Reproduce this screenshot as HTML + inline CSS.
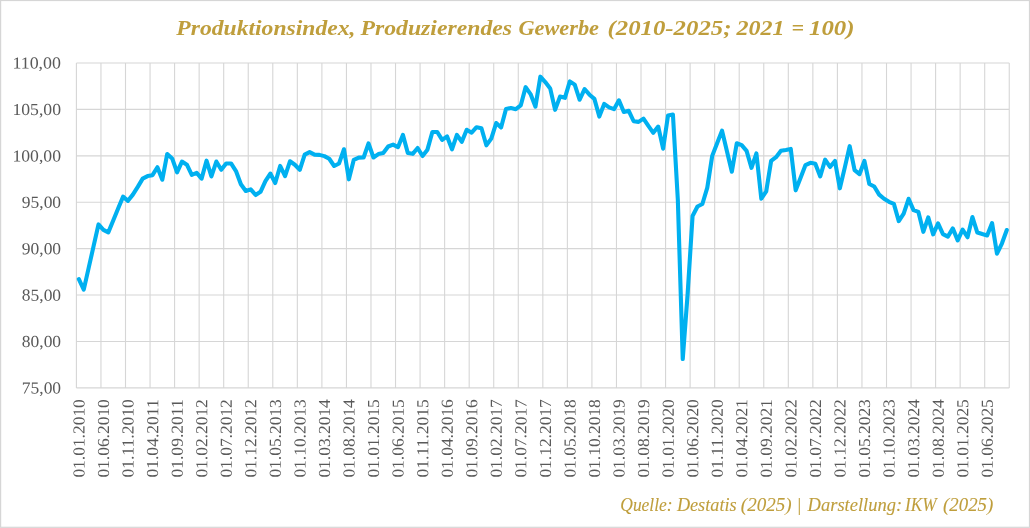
<!DOCTYPE html>
<html lang="de"><head><meta charset="utf-8"><title>Produktionsindex, Produzierendes Gewerbe</title>
<style>html,body{margin:0;padding:0;background:#fff;}body{width:1030px;height:528px;overflow:hidden;}svg{display:block;}text{font-family:"Liberation Serif",serif;}</style></head><body>
<svg width="1030" height="528" viewBox="0 0 1030 528">
<rect x="0" y="0" width="1030" height="528" fill="#ffffff"/>
<rect x="0.6" y="0.5" width="1028.9" height="526.8" fill="none" stroke="#d6d6d6" stroke-width="1.2"/>
<path d="M76.40 63.00H1009.25M76.40 109.41H1009.25M76.40 155.83H1009.25M76.40 202.24H1009.25M76.40 248.66H1009.25M76.40 295.07H1009.25M76.40 341.49H1009.25M76.40 387.90H1009.25M76.40 63.00V387.90M100.95 63.00V387.90M125.50 63.00V387.90M150.05 63.00V387.90M174.59 63.00V387.90M199.14 63.00V387.90M223.69 63.00V387.90M248.24 63.00V387.90M272.79 63.00V387.90M297.34 63.00V387.90M321.89 63.00V387.90M346.44 63.00V387.90M370.98 63.00V387.90M395.53 63.00V387.90M420.08 63.00V387.90M444.63 63.00V387.90M469.18 63.00V387.90M493.73 63.00V387.90M518.28 63.00V387.90M542.83 63.00V387.90M567.37 63.00V387.90M591.92 63.00V387.90M616.47 63.00V387.90M641.02 63.00V387.90M665.57 63.00V387.90M690.12 63.00V387.90M714.67 63.00V387.90M739.21 63.00V387.90M763.76 63.00V387.90M788.31 63.00V387.90M812.86 63.00V387.90M837.41 63.00V387.90M861.96 63.00V387.90M886.51 63.00V387.90M911.06 63.00V387.90M935.60 63.00V387.90M960.15 63.00V387.90M984.70 63.00V387.90M1009.25 63.00V387.90" fill="none" stroke="#d6d6d6" stroke-width="1.1"/>
<path d="M78.85 279.06 L83.76 289.66 L88.67 267.92 L93.58 246.17 L98.49 224.43 L103.40 229.90 L108.31 232.38 L113.22 220.47 L118.13 208.57 L123.04 196.66 L127.95 200.83 L132.86 194.61 L137.77 186.90 L142.68 178.59 L147.59 176.07 L152.50 175.18 L157.41 167.23 L162.32 179.72 L167.23 153.98 L172.14 158.40 L177.05 172.28 L181.96 161.55 L186.87 164.71 L191.78 174.81 L196.69 172.91 L201.60 178.59 L206.51 160.67 L211.42 176.45 L216.33 161.55 L221.24 169.76 L226.15 163.45 L231.06 163.45 L235.97 171.02 L240.88 184.27 L245.79 190.96 L250.70 189.32 L255.61 195.00 L260.52 191.84 L265.42 181.12 L270.33 173.54 L275.24 183.01 L280.15 165.97 L285.06 176.07 L289.97 161.30 L294.88 164.71 L299.79 169.76 L304.70 154.61 L309.61 152.09 L314.52 154.61 L319.43 154.86 L324.34 156.13 L329.25 158.78 L334.16 165.97 L339.07 163.45 L343.98 149.28 L348.89 179.32 L353.80 159.76 L358.71 157.61 L363.62 157.49 L368.53 143.35 L373.44 157.49 L378.35 154.08 L383.26 153.07 L388.17 146.50 L393.08 144.61 L397.99 147.14 L402.90 134.89 L407.81 153.07 L412.72 153.83 L417.63 148.02 L422.54 155.97 L427.45 149.66 L432.36 131.99 L437.27 131.99 L442.18 139.94 L447.09 136.41 L451.99 149.28 L456.90 134.89 L461.81 141.75 L466.72 129.76 L471.63 132.66 L476.54 127.23 L481.45 128.24 L486.36 145.28 L491.27 138.59 L496.18 123.07 L501.09 127.49 L506.00 108.97 L510.91 107.96 L515.82 109.22 L520.73 105.44 L525.64 87.14 L530.55 94.08 L535.46 106.70 L540.37 76.66 L545.28 82.09 L550.19 88.40 L555.10 109.85 L560.01 96.60 L564.92 97.86 L569.83 81.46 L574.74 84.61 L579.65 99.76 L584.56 89.03 L589.47 94.71 L594.38 98.87 L599.29 116.54 L604.20 103.92 L609.11 107.33 L614.02 109.14 L618.93 100.30 L623.84 112.04 L628.75 110.78 L633.66 121.25 L638.56 121.88 L643.47 118.60 L648.38 125.92 L653.29 132.86 L658.20 126.55 L663.11 148.64 L668.02 115.45 L672.93 114.56 L677.84 200.00 L682.75 359.07 L687.66 293.50 L692.57 215.97 L697.48 206.50 L702.39 203.98 L707.30 187.57 L712.21 155.87 L717.12 143.25 L722.03 130.63 L726.94 151.20 L731.85 171.65 L736.76 143.25 L741.67 145.15 L746.58 150.83 L751.49 167.86 L756.40 153.35 L761.31 198.68 L766.22 191.36 L771.13 160.92 L776.04 157.14 L780.95 150.83 L785.86 149.94 L790.77 148.93 L795.68 190.33 L800.59 177.71 L805.50 165.09 L810.41 162.82 L815.32 163.83 L820.23 176.45 L825.13 159.66 L830.04 166.98 L834.95 160.92 L839.86 188.31 L844.77 167.61 L849.68 146.16 L854.59 170.14 L859.50 174.17 L864.41 160.92 L869.32 184.02 L874.23 186.54 L879.14 194.61 L884.05 198.78 L888.96 201.81 L893.87 203.83 L898.78 221.12 L903.69 213.54 L908.60 198.78 L913.51 210.14 L918.42 211.90 L923.33 231.84 L928.24 217.33 L933.15 234.33 L938.06 223.35 L942.97 234.08 L947.88 236.60 L952.79 228.40 L957.70 240.39 L962.61 229.66 L967.52 237.23 L972.43 217.04 L977.34 232.56 L982.25 234.08 L987.16 235.47 L992.07 223.10 L996.98 253.64 L1001.89 243.54 L1006.80 230.04" fill="none" stroke="#00b0f0" stroke-width="4.1" stroke-linejoin="round" stroke-linecap="round"/>
<text y="34.8" font-size="22" fill="#bf9e3c" font-weight="bold" font-style="italic"><tspan x="176.30" textLength="179.10" lengthAdjust="spacingAndGlyphs">Produktionsindex,</tspan> <tspan x="360.40" textLength="151.70" lengthAdjust="spacingAndGlyphs">Produzierendes</tspan> <tspan x="518.40" textLength="80.60" lengthAdjust="spacingAndGlyphs">Gewerbe</tspan> <tspan x="607.60" textLength="123.80" lengthAdjust="spacingAndGlyphs">(2010-2025;</tspan> <tspan x="736.40" textLength="48.10" lengthAdjust="spacingAndGlyphs">2021</tspan> <tspan x="791.50">=</tspan> <tspan x="809.00" textLength="45.50" lengthAdjust="spacingAndGlyphs">100)</tspan></text>
<text transform="translate(12.40 68.55) rotate(0.05)" font-size="16.8" fill="#595959" textLength="48.60" lengthAdjust="spacingAndGlyphs">110,00</text>
<text transform="translate(12.40 114.96) rotate(0.05)" font-size="16.8" fill="#595959" textLength="48.60" lengthAdjust="spacingAndGlyphs">105,00</text>
<text transform="translate(12.40 161.38) rotate(0.05)" font-size="16.8" fill="#595959" textLength="48.60" lengthAdjust="spacingAndGlyphs">100,00</text>
<text transform="translate(21.80 207.79) rotate(0.05)" font-size="16.8" fill="#595959" textLength="39.30" lengthAdjust="spacingAndGlyphs">95,00</text>
<text transform="translate(21.80 254.21) rotate(0.05)" font-size="16.8" fill="#595959" textLength="39.30" lengthAdjust="spacingAndGlyphs">90,00</text>
<text transform="translate(21.80 300.62) rotate(0.05)" font-size="16.8" fill="#595959" textLength="39.30" lengthAdjust="spacingAndGlyphs">85,00</text>
<text transform="translate(21.80 347.04) rotate(0.05)" font-size="16.8" fill="#595959" textLength="39.30" lengthAdjust="spacingAndGlyphs">80,00</text>
<text transform="translate(21.80 393.45) rotate(0.05)" font-size="16.8" fill="#595959" textLength="39.30" lengthAdjust="spacingAndGlyphs">75,00</text>
<text transform="translate(84.45 477.60) rotate(-89.95)" font-size="16.8" fill="#595959" textLength="78.40" lengthAdjust="spacingAndGlyphs">01.01.2010</text>
<text transform="translate(109.00 477.60) rotate(-89.95)" font-size="16.8" fill="#595959" textLength="78.40" lengthAdjust="spacingAndGlyphs">01.06.2010</text>
<text transform="translate(133.55 477.60) rotate(-89.95)" font-size="16.8" fill="#595959" textLength="78.40" lengthAdjust="spacingAndGlyphs">01.11.2010</text>
<text transform="translate(158.10 477.60) rotate(-89.95)" font-size="16.8" fill="#595959" textLength="78.40" lengthAdjust="spacingAndGlyphs">01.04.2011</text>
<text transform="translate(182.65 477.60) rotate(-89.95)" font-size="16.8" fill="#595959" textLength="78.40" lengthAdjust="spacingAndGlyphs">01.09.2011</text>
<text transform="translate(207.20 477.60) rotate(-89.95)" font-size="16.8" fill="#595959" textLength="78.40" lengthAdjust="spacingAndGlyphs">01.02.2012</text>
<text transform="translate(231.75 477.60) rotate(-89.95)" font-size="16.8" fill="#595959" textLength="78.40" lengthAdjust="spacingAndGlyphs">01.07.2012</text>
<text transform="translate(256.30 477.60) rotate(-89.95)" font-size="16.8" fill="#595959" textLength="78.40" lengthAdjust="spacingAndGlyphs">01.12.2012</text>
<text transform="translate(280.84 477.60) rotate(-89.95)" font-size="16.8" fill="#595959" textLength="78.40" lengthAdjust="spacingAndGlyphs">01.05.2013</text>
<text transform="translate(305.39 477.60) rotate(-89.95)" font-size="16.8" fill="#595959" textLength="78.40" lengthAdjust="spacingAndGlyphs">01.10.2013</text>
<text transform="translate(329.94 477.60) rotate(-89.95)" font-size="16.8" fill="#595959" textLength="78.40" lengthAdjust="spacingAndGlyphs">01.03.2014</text>
<text transform="translate(354.49 477.60) rotate(-89.95)" font-size="16.8" fill="#595959" textLength="78.40" lengthAdjust="spacingAndGlyphs">01.08.2014</text>
<text transform="translate(379.04 477.60) rotate(-89.95)" font-size="16.8" fill="#595959" textLength="78.40" lengthAdjust="spacingAndGlyphs">01.01.2015</text>
<text transform="translate(403.59 477.60) rotate(-89.95)" font-size="16.8" fill="#595959" textLength="78.40" lengthAdjust="spacingAndGlyphs">01.06.2015</text>
<text transform="translate(428.14 477.60) rotate(-89.95)" font-size="16.8" fill="#595959" textLength="78.40" lengthAdjust="spacingAndGlyphs">01.11.2015</text>
<text transform="translate(452.69 477.60) rotate(-89.95)" font-size="16.8" fill="#595959" textLength="78.40" lengthAdjust="spacingAndGlyphs">01.04.2016</text>
<text transform="translate(477.23 477.60) rotate(-89.95)" font-size="16.8" fill="#595959" textLength="78.40" lengthAdjust="spacingAndGlyphs">01.09.2016</text>
<text transform="translate(501.78 477.60) rotate(-89.95)" font-size="16.8" fill="#595959" textLength="78.40" lengthAdjust="spacingAndGlyphs">01.02.2017</text>
<text transform="translate(526.33 477.60) rotate(-89.95)" font-size="16.8" fill="#595959" textLength="78.40" lengthAdjust="spacingAndGlyphs">01.07.2017</text>
<text transform="translate(550.88 477.60) rotate(-89.95)" font-size="16.8" fill="#595959" textLength="78.40" lengthAdjust="spacingAndGlyphs">01.12.2017</text>
<text transform="translate(575.43 477.60) rotate(-89.95)" font-size="16.8" fill="#595959" textLength="78.40" lengthAdjust="spacingAndGlyphs">01.05.2018</text>
<text transform="translate(599.98 477.60) rotate(-89.95)" font-size="16.8" fill="#595959" textLength="78.40" lengthAdjust="spacingAndGlyphs">01.10.2018</text>
<text transform="translate(624.53 477.60) rotate(-89.95)" font-size="16.8" fill="#595959" textLength="78.40" lengthAdjust="spacingAndGlyphs">01.03.2019</text>
<text transform="translate(649.07 477.60) rotate(-89.95)" font-size="16.8" fill="#595959" textLength="78.40" lengthAdjust="spacingAndGlyphs">01.08.2019</text>
<text transform="translate(673.62 477.60) rotate(-89.95)" font-size="16.8" fill="#595959" textLength="78.40" lengthAdjust="spacingAndGlyphs">01.01.2020</text>
<text transform="translate(698.17 477.60) rotate(-89.95)" font-size="16.8" fill="#595959" textLength="78.40" lengthAdjust="spacingAndGlyphs">01.06.2020</text>
<text transform="translate(722.72 477.60) rotate(-89.95)" font-size="16.8" fill="#595959" textLength="78.40" lengthAdjust="spacingAndGlyphs">01.11.2020</text>
<text transform="translate(747.27 477.60) rotate(-89.95)" font-size="16.8" fill="#595959" textLength="78.40" lengthAdjust="spacingAndGlyphs">01.04.2021</text>
<text transform="translate(771.82 477.60) rotate(-89.95)" font-size="16.8" fill="#595959" textLength="78.40" lengthAdjust="spacingAndGlyphs">01.09.2021</text>
<text transform="translate(796.37 477.60) rotate(-89.95)" font-size="16.8" fill="#595959" textLength="78.40" lengthAdjust="spacingAndGlyphs">01.02.2022</text>
<text transform="translate(820.92 477.60) rotate(-89.95)" font-size="16.8" fill="#595959" textLength="78.40" lengthAdjust="spacingAndGlyphs">01.07.2022</text>
<text transform="translate(845.46 477.60) rotate(-89.95)" font-size="16.8" fill="#595959" textLength="78.40" lengthAdjust="spacingAndGlyphs">01.12.2022</text>
<text transform="translate(870.01 477.60) rotate(-89.95)" font-size="16.8" fill="#595959" textLength="78.40" lengthAdjust="spacingAndGlyphs">01.05.2023</text>
<text transform="translate(894.56 477.60) rotate(-89.95)" font-size="16.8" fill="#595959" textLength="78.40" lengthAdjust="spacingAndGlyphs">01.10.2023</text>
<text transform="translate(919.11 477.60) rotate(-89.95)" font-size="16.8" fill="#595959" textLength="78.40" lengthAdjust="spacingAndGlyphs">01.03.2024</text>
<text transform="translate(943.66 477.60) rotate(-89.95)" font-size="16.8" fill="#595959" textLength="78.40" lengthAdjust="spacingAndGlyphs">01.08.2024</text>
<text transform="translate(968.21 477.60) rotate(-89.95)" font-size="16.8" fill="#595959" textLength="78.40" lengthAdjust="spacingAndGlyphs">01.01.2025</text>
<text transform="translate(992.76 477.60) rotate(-89.95)" font-size="16.8" fill="#595959" textLength="78.40" lengthAdjust="spacingAndGlyphs">01.06.2025</text>
<text y="511.0" font-size="18.2" fill="#bf9e3c" font-style="italic" stroke="#bf9e3c" stroke-width="0.1"><tspan x="620.30" textLength="52.30" lengthAdjust="spacingAndGlyphs">Quelle:</tspan> <tspan x="676.90" textLength="59.70" lengthAdjust="spacingAndGlyphs">Destatis</tspan> <tspan x="740.80" textLength="50.80" lengthAdjust="spacingAndGlyphs">(2025)</tspan> <tspan x="796.50">|</tspan> <tspan x="807.60" textLength="94.60" lengthAdjust="spacingAndGlyphs">Darstellung:</tspan> <tspan x="905.00" textLength="31.60" lengthAdjust="spacingAndGlyphs">IKW</tspan> <tspan x="943.10" textLength="50.20" lengthAdjust="spacingAndGlyphs">(2025)</tspan></text>
</svg></body></html>
